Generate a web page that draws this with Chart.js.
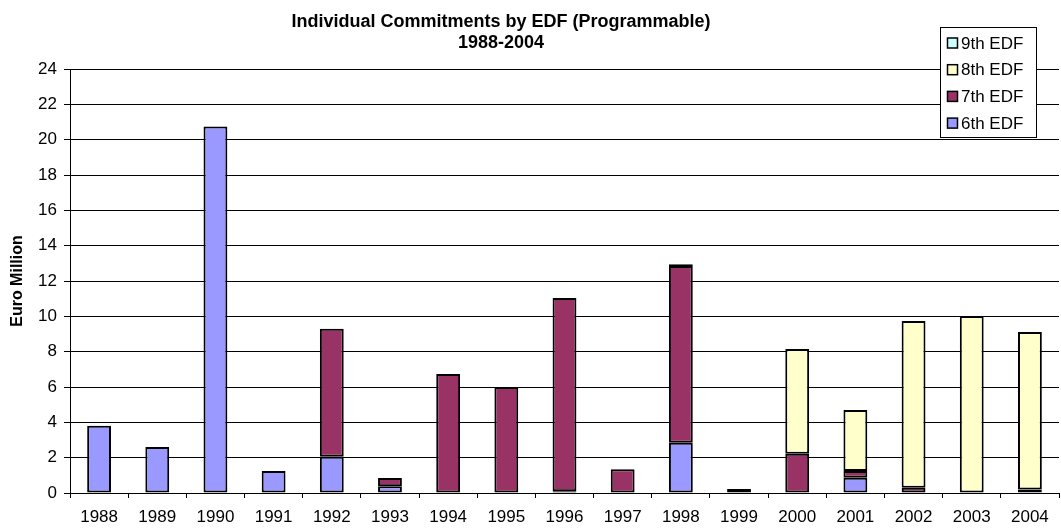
<!DOCTYPE html>
<html>
<head>
<meta charset="utf-8">
<title>Individual Commitments by EDF (Programmable)</title>
<script src="https://cdn.jsdelivr.net/npm/chart.js@4.4.1/dist/chart.umd.min.js"></script>
<style>
  html, body { margin: 0; padding: 0; background: #fff; }
  #wrap { width: 1061px; height: 528px; }
</style>
</head>
<body>
<div id="wrap"><canvas id="chart" width="1061" height="528"></canvas></div>
<script>
const years = ['1988', '1989', '1990', '1991', '1992', '1993', '1994', '1995', '1996',
  '1997', '1998', '1999', '2000', '2001', '2002', '2003', '2004'];

// values in Euro Million
const edf6 = [3.8, 2.6, 20.75, 1.25, 2.05, 0.38, 0, 0, 0.1, 0, 2.85, 0, 0, 0.87, 0, 0, 0];
const edf7 = [0, 0, 0, 0, 7.25, 0.47, 6.73, 6.0, 10.94, 1.35, 10.0, 0, 2.22, 0.38, 0.3, 0, 0.2];
const edf8 = [0, 0, 0, 0, 0, 0, 0, 0, 0, 0, 0.1, 0.22, 5.93, 3.45, 9.43, 10.02, 8.91];
const edf9 = [0, 0, 0, 0, 0, 0, 0, 0, 0, 0, 0, 0, 0, 0, 0, 0, 0];

const seriesNames = ['6th EDF', '7th EDF', '8th EDF', '9th EDF'];
const seriesColors = ['#9999ff', '#993366', '#ffffcc', '#ccffff'];

const titleLines = ['Individual Commitments by EDF (Programmable)', '1988-2004'];
const yTitle = 'Euro Million';

const FONT = '"Liberation Sans", Arial, sans-serif';

// zero-height segments are left out so they draw no border
const clean = (arr) => arr.map((v) => (v === 0 ? null : v));

const datasets = [edf6, edf7, edf8, edf9].map((arr, i) => ({
  label: seriesNames[i],
  data: clean(arr),
  backgroundColor: seriesColors[i],
  borderColor: '#000',
  borderWidth: 2,
  borderSkipped: false,
  categoryPercentage: 0.41,
  barPercentage: 1,
}));

// title, y-axis title and the boxed legend over the top right corner
const decorations = {
  id: 'decorations',
  afterDraw(chart) {
    const ctx = chart.ctx;
    ctx.save();
    ctx.fillStyle = '#000';
    ctx.textAlign = 'center';
    ctx.textBaseline = 'alphabetic';
    ctx.font = 'bold 18px ' + FONT;
    ctx.fillText(titleLines[0], 501, 27);
    ctx.fillText(titleLines[1], 501, 48);

    ctx.save();
    ctx.translate(18, (chart.chartArea.top + chart.chartArea.bottom) / 2);
    ctx.rotate(-Math.PI / 2);
    ctx.textBaseline = 'middle';
    ctx.font = 'bold 16px ' + FONT;
    ctx.fillText(yTitle, 0, 0);
    ctx.restore();

    // legend
    const bx = 940.5, by = 27.5, bw = 96, bh = 110;
    ctx.fillStyle = '#fff';
    ctx.fillRect(bx, by, bw, bh);
    ctx.strokeStyle = '#000';
    ctx.lineWidth = 1;
    ctx.strokeRect(bx, by, bw, bh);
    ctx.font = '17px ' + FONT;
    ctx.textAlign = 'left';
    ctx.textBaseline = 'middle';
    const items = chart.data.datasets.slice().reverse();
    items.forEach((ds, i) => {
      const cy = 43 + i * 26.7;
      ctx.fillStyle = ds.backgroundColor;
      ctx.fillRect(947.5, cy - 5, 10, 10);
      ctx.lineWidth = 1.5;
      ctx.strokeRect(947.5, cy - 5, 10, 10);
      ctx.fillStyle = '#000';
      ctx.fillText(ds.label, 961, cy + 1);
    });
    ctx.restore();
  },
};

new Chart(document.getElementById('chart'), {
  type: 'bar',
  data: { labels: years, datasets: datasets },
  options: {
    responsive: false,
    animation: false,
    layout: { padding: { top: 69, right: 2, left: 0, bottom: 0 } },
    plugins: {
      legend: { display: false },
      title: { display: false },
      tooltip: { enabled: false },
    },
    scales: {
      x: {
        stacked: true,
        afterFit: (scale) => { scale.height = 35; },
        grid: {
          offset: true,
          drawOnChartArea: false,
          color: '#000',
          tickLength: 5,
        },
        border: { color: '#000', width: 1 },
        ticks: {
          color: '#000',
          font: { family: FONT, size: 17 },
          padding: 9,
          maxRotation: 0,
          autoSkip: false,
        },
      },
      y: {
        stacked: true,
        min: 0,
        max: 24,
        afterFit: (scale) => { scale.width = 70; },
        grid: { color: '#000', lineWidth: 1, tickLength: 6 },
        border: { color: '#000', width: 1 },
        ticks: {
          stepSize: 2,
          color: '#000',
          font: { family: FONT, size: 17 },
          padding: 7,
        },
      },
    },
  },
  plugins: [decorations],
});
</script>
</body>
</html>
